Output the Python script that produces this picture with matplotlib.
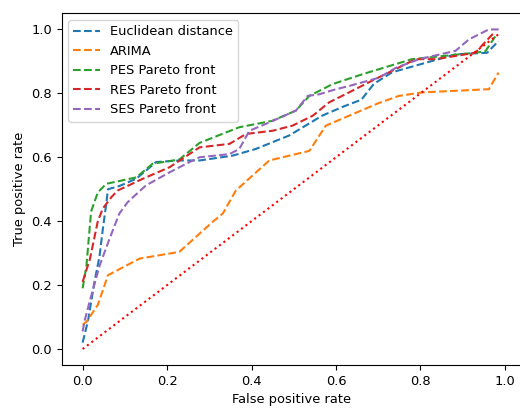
import matplotlib
matplotlib.use('Agg')
import matplotlib.pyplot as plt
import numpy as np

plt.rcParams['font.size'] = 9.4

# ROC curves
euc_fpr = [0, 0.013, 0.028, 0.04, 0.048, 0.056, 0.06, 0.087, 0.127, 0.174, 0.229, 0.277, 0.355, 0.41, 0.489, 0.567, 0.62, 0.66, 0.69, 0.733, 0.883, 0.958, 0.985]
euc_tpr = [0.02, 0.09, 0.21, 0.29, 0.377, 0.455, 0.50, 0.51, 0.533, 0.585, 0.59, 0.59, 0.605, 0.626, 0.668, 0.73, 0.76, 0.78, 0.83, 0.866, 0.922, 0.927, 0.964]

arima_fpr = [0, 0.009, 0.036, 0.06, 0.135, 0.229, 0.308, 0.332, 0.363, 0.442, 0.537, 0.576, 0.702, 0.749, 0.804, 0.962, 0.985]
arima_tpr = [0.076, 0.085, 0.138, 0.231, 0.283, 0.304, 0.398, 0.424, 0.496, 0.59, 0.62, 0.699, 0.77, 0.792, 0.803, 0.813, 0.865]

pes_fpr = [0, 0.009, 0.02, 0.036, 0.056, 0.127, 0.166, 0.229, 0.277, 0.371, 0.449, 0.505, 0.537, 0.592, 0.663, 0.78, 0.93, 0.954, 0.978]
pes_tpr = [0.19, 0.26, 0.43, 0.49, 0.517, 0.537, 0.58, 0.593, 0.645, 0.694, 0.714, 0.746, 0.792, 0.829, 0.86, 0.907, 0.927, 0.932, 0.98]

res_fpr = [0, 0.017, 0.036, 0.048, 0.068, 0.083, 0.143, 0.206, 0.277, 0.348, 0.387, 0.45, 0.497, 0.545, 0.584, 0.631, 0.686, 0.789, 0.836, 0.93, 0.97, 0.98]
res_tpr = [0.21, 0.28, 0.40, 0.44, 0.475, 0.496, 0.533, 0.569, 0.631, 0.642, 0.673, 0.683, 0.699, 0.73, 0.772, 0.803, 0.84, 0.907, 0.907, 0.927, 0.984, 0.984]

ses_fpr = [0, 0.005, 0.017, 0.04, 0.064, 0.087, 0.107, 0.15, 0.206, 0.253, 0.277, 0.348, 0.371, 0.395, 0.442, 0.505, 0.533, 0.56, 0.6, 0.631, 0.702, 0.742, 0.797, 0.883, 0.915, 0.962, 0.986]
ses_tpr = [0.055, 0.09, 0.15, 0.26, 0.346, 0.424, 0.46, 0.512, 0.553, 0.585, 0.60, 0.61, 0.626, 0.683, 0.709, 0.746, 0.792, 0.797, 0.813, 0.823, 0.849, 0.88, 0.907, 0.933, 0.969, 1.0, 1.0]

diag = [0, 0.99]

fig = plt.figure(figsize=(5.2, 4.08), dpi=100)
ax = fig.add_axes([0.1187, 0.1054, 0.8843, 0.8616])

ax.plot(euc_fpr, euc_tpr, '--', label='Euclidean distance')
ax.plot(arima_fpr, arima_tpr, '--', label='ARIMA')
ax.plot(pes_fpr, pes_tpr, '--', label='PES Pareto front')
ax.plot(res_fpr, res_tpr, '--', label='RES Pareto front')
ax.plot(ses_fpr, ses_tpr, '--', label='SES Pareto front')
ax.plot(diag, diag, 'r:')

ax.set_xlabel('False positive rate')
ax.set_ylabel('True positive rate')
ax.legend(loc='upper left')

plt.savefig('out.png', dpi=100)
